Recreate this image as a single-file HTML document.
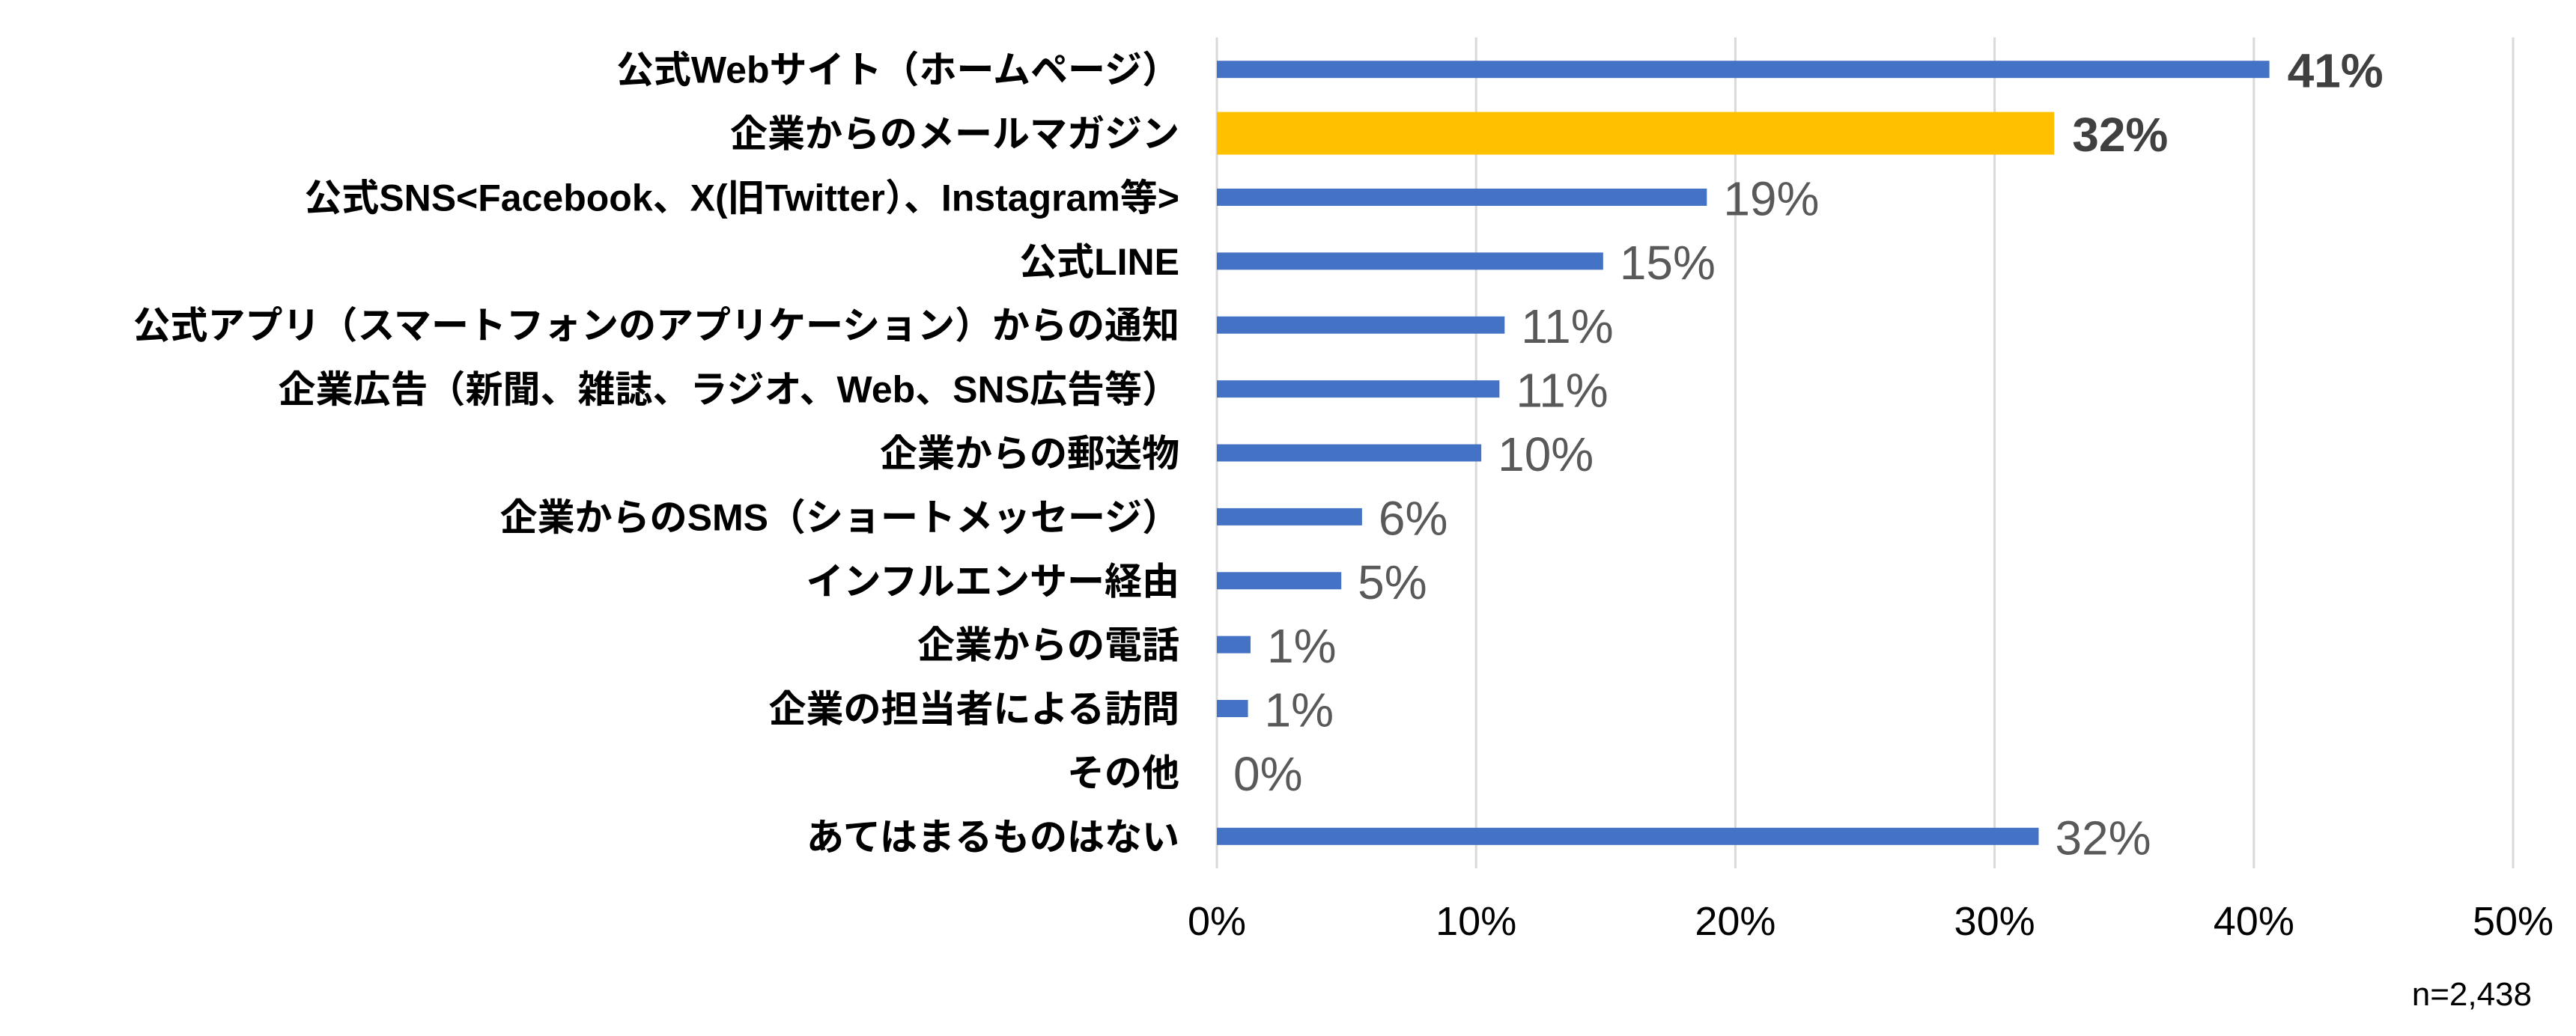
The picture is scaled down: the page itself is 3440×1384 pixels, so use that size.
<!DOCTYPE html>
<html><head><meta charset="utf-8"><style>
html,body{margin:0;padding:0;background:#fff;}
svg{display:block;}
</style></head><body>
<svg id="chart" width="3440" height="1384" xmlns="http://www.w3.org/2000/svg"></svg>
<script>
const categories = ["公式Webサイト（ホームページ）","企業からのメールマガジン","公式SNS<Facebook、X(旧Twitter）、Instagram等>","公式LINE","公式アプリ（スマートフォンのアプリケーション）からの通知","企業広告（新聞、雑誌、ラジオ、Web、SNS広告等）","企業からの郵送物","企業からのSMS（ショートメッセージ）","インフルエンサー経由","企業からの電話","企業の担当者による訪問","その他","あてはまるものはない"];
const values = [40.6,32.3,18.9,14.9,11.1,10.9,10.2,5.6,4.8,1.3,1.2,0,31.7];
const valueLabels = ["41%","32%","19%","15%","11%","11%","10%","6%","5%","1%","1%","0%","32%"];
const highlight = [false,true,false,false,false,false,false,false,false,false,false,false,false];
const bold = [true,true,false,false,false,false,false,false,false,false,false,false,false];
const ticks = [0,10,20,30,40,50];
const tickLabels = ["0%","10%","20%","30%","40%","50%"];
const sampleNote = "n=2,438";

const NS="http://www.w3.org/2000/svg";
const svg=document.getElementById('chart');
const x0=1625,x1=3356,yTop=50,yBot=1160,maxV=50;
const band=(yBot-yTop)/categories.length;
const xs=v=>x0+(v/maxV)*(x1-x0);
const yc=i=>yTop+band*(i+0.5);
function mk(tag,attrs,text){const e=document.createElementNS(NS,tag);for(const k in attrs)e.setAttribute(k,attrs[k]);if(text!==undefined)e.textContent=text;svg.appendChild(e);return e;}
ticks.forEach((t,i)=>{
  const g=mk('line',{x1:xs(t),x2:xs(t),y1:yTop,y2:yBot,stroke:'#d9d9d9','stroke-width':3});
  
  
  const tl=mk('text',{x:xs(t),y:1249,'text-anchor':'middle','font-family':'Liberation Sans, sans-serif','font-size':54,fill:'#000'},tickLabels[i]);
  
  
});
categories.forEach((c,i)=>{
  const cy=yc(i);
  const h=highlight[i]?57:23;
  const r=mk('rect',{x:x0,y:cy-h/2,width:Math.max(0,xs(values[i])-x0),height:h,fill:highlight[i]?'#ffc000':'#4472c4'});
  
  
  const lab=mk('text',{x:1575,y:cy+18,'text-anchor':'end','font-family':'Liberation Sans, Noto Sans CJK JP, sans-serif','font-size':50,'font-weight':'bold',fill:'#000'},c);
  
  
  const v=mk('text',{x:xs(values[i])+(bold[i]?24:22),y:cy+24,'font-family':'Liberation Sans, sans-serif','font-size':64,'font-weight':bold[i]?'bold':'normal',fill:bold[i]?'#404040':'#595959'},valueLabels[i]);
  
  
});
const n=mk('text',{x:3381,y:1343,'text-anchor':'end','font-family':'Liberation Sans, sans-serif','font-size':44,fill:'#000'},sampleNote);


</script>
</body></html>
